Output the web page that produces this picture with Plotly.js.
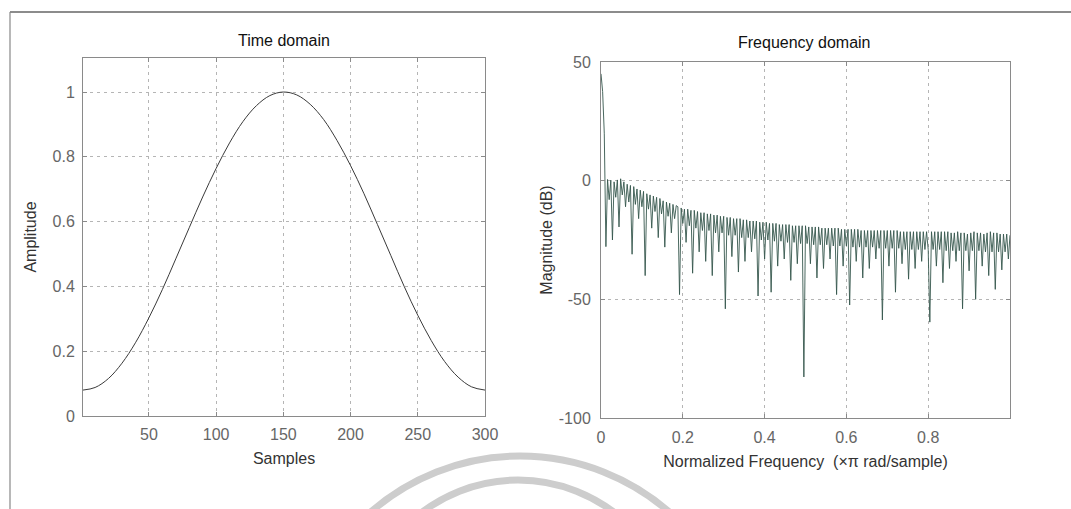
<!DOCTYPE html>
<html><head><meta charset="utf-8">
<script src="https://cdn.plot.ly/plotly-3.0.1.min.js"></script>
<style>html,body{margin:0;padding:0;background:#fff}#chart{width:1071px;height:509px}</style>
</head><body><div id="chart"></div>
<script>
// ---- Time domain ----
const sampleIdx = [1,10,20,30,40,50,60,70,80,90,100,110,120,130,140,150,160,170,180,190,200,210,220,230,240,250,260,270,280,290,300];
const amplitude = [0.08,0.088,0.116,0.163,0.226,0.303,0.39,0.485,0.581,0.676,0.764,0.843,0.909,0.958,0.989,1.0,0.991,0.962,0.915,0.85,0.773,0.686,0.591,0.495,0.399,0.311,0.233,0.168,0.12,0.09,0.08];

// ---- Frequency domain, uniform step in normalized frequency ----
const freqStep = 0.004;
const magnitudeDb = [
 45,37.5,20,-27.8,0.5,-8,0.2,-25,-0.5,-7,
 0.3,-19.5,0.8,-6,-0.5,-11,-1.5,-9,-2,-31,
 -2.5,-10,-3.5,-16,-4,-11,-4.5,-40,-5.5,-12,
 -6,-20,-6.5,-13,-7,-24,-7.5,-14,-8.5,-28,
 -9,-15,-9.5,-22,-10,-16,-10.5,-11,-48,-11.5,
 -18,-12,-26,-12,-19,-12.5,-39,-12.5,-20,-13,
 -30,-13.5,-21,-13.5,-34,-14,-21,-14,-40,-14.5,
 -22,-14.5,-30,-15,-22,-15,-54,-15.5,-23,-15.5,
 -32,-16,-23,-16,-38.5,-16,-24,-16.5,-34,-16.5,
 -24,-17,-30,-17,-24.5,-17,-48.6,-17.5,-25,-17.5,
 -33,-17.5,-25,-18,-47,-18,-25.5,-18,-36,-18.5,
 -25.5,-18.5,-33,-18.5,-26,-18.5,-42,-19,-26,-19,
 -35,-19,-26.5,-19,-82.7,-19,-26.5,-19.5,-35,-19.5,
 -27,-19.5,-41,-19.5,-27,-20,-37,-20,-27,-20,
 -33,-20,-27.5,-20,-48,-20,-27.5,-20.5,-36,-20.5,
 -27.5,-20.5,-52.4,-20.5,-28,-20.5,-34,-20.5,-28,-21,
 -41,-21,-28,-21,-37,-21,-28,-21,-33,-21,
 -28.5,-21,-58.7,-21,-28.5,-21,-36,-21,-28.5,-21,
 -47,-21,-28.5,-21.5,-35,-21.5,-29,-21.5,-41.5,-21.5,
 -29,-21.5,-37,-21.5,-29,-21.5,-34,-21.5,-29,-21.5,
 -29,-59.6,-21.5,-29,-21.5,-36,-21.5,-29,-21.5,-43,
 -21.5,-29.5,-21.5,-37,-22,-29.5,-22,-34,-21.5,-29.5,
 -22,-54,-22,-29.5,-22.5,-38,-22,-29.5,-21.5,-50,
 -22,-29.5,-22,-36,-22.5,-30,-22,-40,-21.5,-30,
 -22,-45.8,-22,-30,-22.5,-37.6,-22.5,-30,-22.5,-33,
 -23
];

const timeXTicks = [50,100,150,200,250,300];
const timeYTicks = [0,0.2,0.4,0.6,0.8,1];
const timeYTickText = ["0","0.2","0.4","0.6","0.8","1"];
const freqXTicks = [0,0.2,0.4,0.6,0.8];
const freqXTickText = ["0","0.2","0.4","0.6","0.8"];
const freqYTicks = [-100,-50,0,50];
const freqYTickText = ["-100","-50","0","50"];

const freqs = magnitudeDb.map((_, i) => i * freqStep);

const W = 1071, H = 509;
const px = v => v / W;
const py = v => 1 - v / H;

const FONT = "Liberation Sans, Arial, Helvetica, sans-serif";
const tickFont = {family: FONT, size: 16, color: '#666'};
const titleFont = {family: FONT, size: 16, color: '#333'};
const axisCommon = {
  showline: true, linecolor: '#8a8a8a', linewidth: 1, mirror: 'ticks',
  ticks: 'inside', ticklen: 4, tickcolor: '#8a8a8a',
  showgrid: true, gridcolor: '#b5b5b5', gridwidth: 1, griddash: '3px,4px',
  zeroline: false, tickfont: tickFont, fixedrange: true, automargin: false
};

const traces = [
  {x: sampleIdx, y: amplitude, type: 'scatter', mode: 'lines',
   line: {color: '#3a3a3a', width: 1, shape: 'spline', smoothing: 1},
   xaxis: 'x', yaxis: 'y', hoverinfo: 'skip'},
  {x: freqs, y: magnitudeDb, type: 'scatter', mode: 'lines',
   line: {color: '#35574d', width: 0.9},
   xaxis: 'x2', yaxis: 'y2', hoverinfo: 'skip'}
];

const layout = {
  width: W, height: H,
  margin: {l: 0, r: 0, t: 0, b: 0},
  paper_bgcolor: '#fff', plot_bgcolor: '#fff',
  showlegend: false,
  font: {family: FONT, color: '#333'},
  xaxis: Object.assign({}, axisCommon, {
    domain: [px(83), px(485)], range: [1, 300],
    tickvals: timeXTicks, anchor: 'y', ticklabelstandoff: 4,
    title: {text: 'Samples', font: titleFont, standoff: 10}
  }),
  yaxis: Object.assign({}, axisCommon, {
    domain: [py(416), py(58)], range: [0, 1.105],
    tickvals: timeYTicks, ticktext: timeYTickText, anchor: 'x', ticklabelstandoff: 4,
    title: {text: 'Amplitude', font: titleFont, standoff: 11}
  }),
  xaxis2: Object.assign({}, axisCommon, {
    domain: [px(601), px(1010)], range: [0, 1],
    tickvals: freqXTicks, ticktext: freqXTickText, anchor: 'y2', ticklabelstandoff: 5,
    title: {text: 'Normalized Frequency  (\u00d7\u03c0 rad/sample)', font: titleFont, standoff: 10}
  }),
  yaxis2: Object.assign({}, axisCommon, {
    domain: [py(418), py(62)], range: [-100, 50],
    tickvals: freqYTicks, ticktext: freqYTickText, anchor: 'x2', ticklabelstandoff: 6,
    title: {text: 'Magnitude (dB)', font: titleFont, standoff: 2}
  }),
  annotations: [
    {text: 'Time domain', xref: 'paper', yref: 'paper', x: px(284), y: py(40),
     xanchor: 'center', yanchor: 'middle', showarrow: false,
     font: {family: FONT, size: 16, color: '#111'}},
    {text: 'Frequency domain', xref: 'paper', yref: 'paper', x: px(804), y: py(43),
     xanchor: 'center', yanchor: 'middle', showarrow: false,
     font: {family: FONT, size: 16, color: '#111'}}
  ],
  shapes: [
    {type: 'line', xref: 'paper', yref: 'paper', x0: px(10), x1: px(1071), y0: py(12), y1: py(12),
     line: {color: '#666', width: 1.5}},
    {type: 'line', xref: 'paper', yref: 'paper', x0: px(10), x1: px(10), y0: py(12), y1: py(509),
     line: {color: '#888', width: 1.2}},
    {type: 'circle', xref: 'paper', yref: 'paper', layer: 'below',
     x0: px(520-227), x1: px(520+227), y0: py(683+227), y1: py(683-227),
     line: {color: '#cdcdcd', width: 7}},
    {type: 'circle', xref: 'paper', yref: 'paper', layer: 'below',
     x0: px(518-159), x1: px(518+159), y0: py(639+159), y1: py(639-159),
     line: {color: '#cdcdcd', width: 7}}
  ]
};

Plotly.newPlot('chart', traces, layout, {staticPlot: true, displayModeBar: false});
</script>
</body></html>
